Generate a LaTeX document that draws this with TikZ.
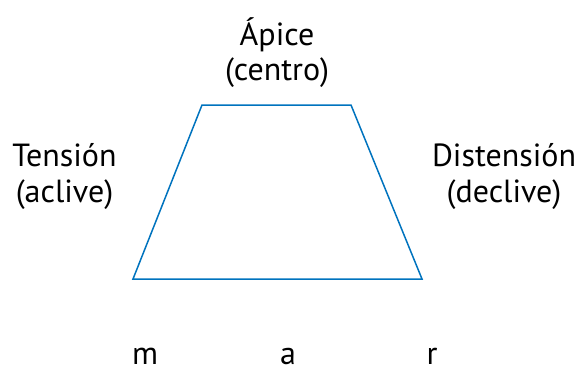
\documentclass[tikz,border=0pt]{standalone}
\usepackage{fontspec}
\setmainfont{PT Sans}
\definecolor{trapblue}{RGB}{0,115,190}
\begin{document}
\begin{tikzpicture}[x=1pt,y=-1pt,
  lbl/.style={anchor=base,inner sep=0pt,font=\fontsize{32}{38}\selectfont,text=black},
  edge/.style={draw=trapblue,line width=1.5pt,line join=miter}]
\useasboundingbox (0,0) rectangle (581,373);
\coordinate (bl) at (133,279);
\coordinate (br) at (422,279);
\coordinate (tr) at (351,105);
\coordinate (tl) at (202,105);
\draw[edge] (bl) -- (br) -- (tr) -- (tl) -- cycle;
\node[lbl] (apice) at (277,45) {Ápice};
\node[lbl] (centro) at (277,80) {(centro)};
\node[lbl] (tension) at (64.5,166) {Tensión};
\node[lbl] (aclive) at (64.5,202) {(aclive)};
\node[lbl] (distension) at (504,166) {Distensión};
\node[lbl] (declive) at (504,202) {(declive)};
\node[lbl] (m) at (145,364) {m};
\node[lbl] (a) at (288,364) {a};
\node[lbl] (r) at (432,364) {r};
\end{tikzpicture}
\end{document}
